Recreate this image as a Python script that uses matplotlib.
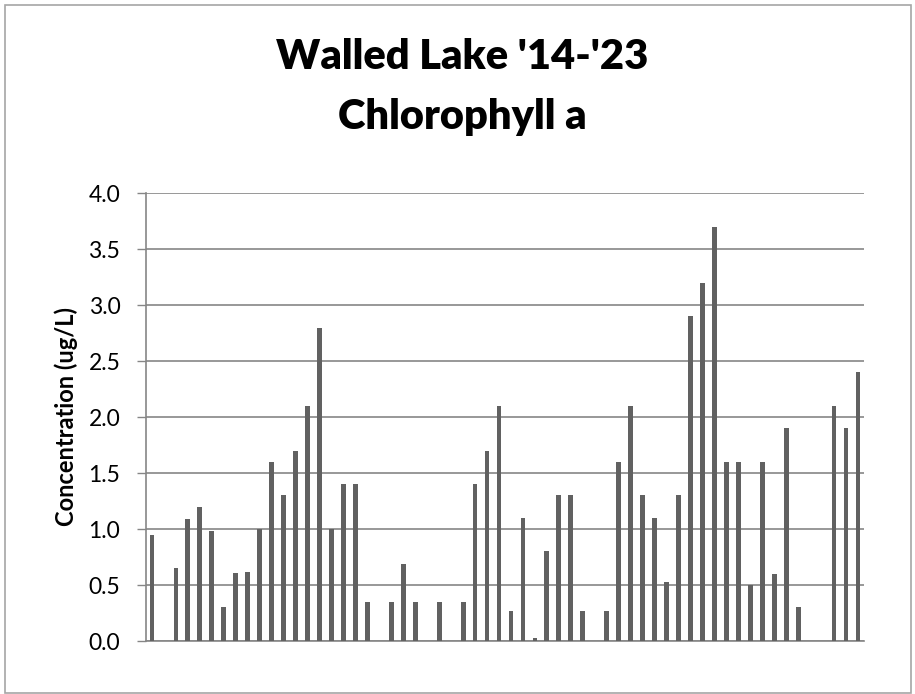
import matplotlib
matplotlib.use("Agg")
import matplotlib.pyplot as plt
import numpy as np
from matplotlib.patches import Rectangle

# sample values (ug/L); None = no sample in that slot
chl_a = [0.95, None, 0.65, 1.09, 1.2, 0.98, 0.30, 0.61, 0.62, 1.0,
         1.6, 1.3, 1.7, 2.1, 2.8, 1.0, 1.4, 1.4, 0.35, None,
         0.35, 0.69, 0.35, None, 0.35, None, 0.35, 1.4, 1.7, 2.1,
         0.27, 1.1, 0.03, 0.8, 1.3, 1.3, 0.27, None, 0.27, 1.6,
         2.1, 1.3, 1.1, 0.53, 1.3, 2.9, 3.2, 3.7, 1.6, 1.6,
         0.5, 1.6, 0.6, 1.9, 0.3, None, None, 2.1, 1.9, 2.4]
y_ticks = [0.0, 0.5, 1.0, 1.5, 2.0, 2.5, 3.0, 3.5, 4.0]

vals = np.array([np.nan if v is None else v for v in chl_a])
x = np.arange(len(vals))

fig = plt.figure(figsize=(9.15, 6.94), dpi=100)
ax = fig.add_axes([146/915, 1 - 641/694, (864 - 146)/915, (641 - 193.3)/694])

grid_col = '#868686'
ax.bar(x, np.nan_to_num(vals), width=0.4, color='#616161', zorder=3)

ax.set_xlim(-0.5, len(vals) - 0.5)
ax.set_ylim(0, 4.0)
ax.set_yticks(y_ticks)
ax.set_yticklabels([f'{t:.1f}' for t in y_ticks], fontsize=16.5, family='Lato')
ax.set_xticks([])
ax.yaxis.grid(True, color=grid_col, linewidth=1.2, zorder=0)
ax.tick_params(axis='y', length=6.5, width=1.0, color=grid_col, pad=12)

for s in ['top', 'right']:
    ax.spines[s].set_visible(False)
for s in ['left', 'bottom']:
    ax.spines[s].set_color(grid_col)
    ax.spines[s].set_linewidth(1.2)

# title and axis label
fig.text(462/915, 1 - 57/694, "Walled Lake '14-'23", ha='center', va='center',
         fontsize=30, fontweight='heavy', family='Lato')
fig.text(462/915, 1 - 117/694, "Chlorophyll a", ha='center', va='center',
         fontsize=30, fontweight='heavy', family='Lato')
fig.text(66/915, 1 - 416/694, "Concentration (ug/L)", ha='center', va='center',
         rotation=90, fontsize=17, fontweight='bold', family='Lato')

# chart border
fig.patches.append(Rectangle((5/915, 1/694), 906/915, 688/694, transform=fig.transFigure,
                             fill=False, edgecolor='#a6a6a6', linewidth=1.2))

fig.savefig('out.png', dpi=100)
